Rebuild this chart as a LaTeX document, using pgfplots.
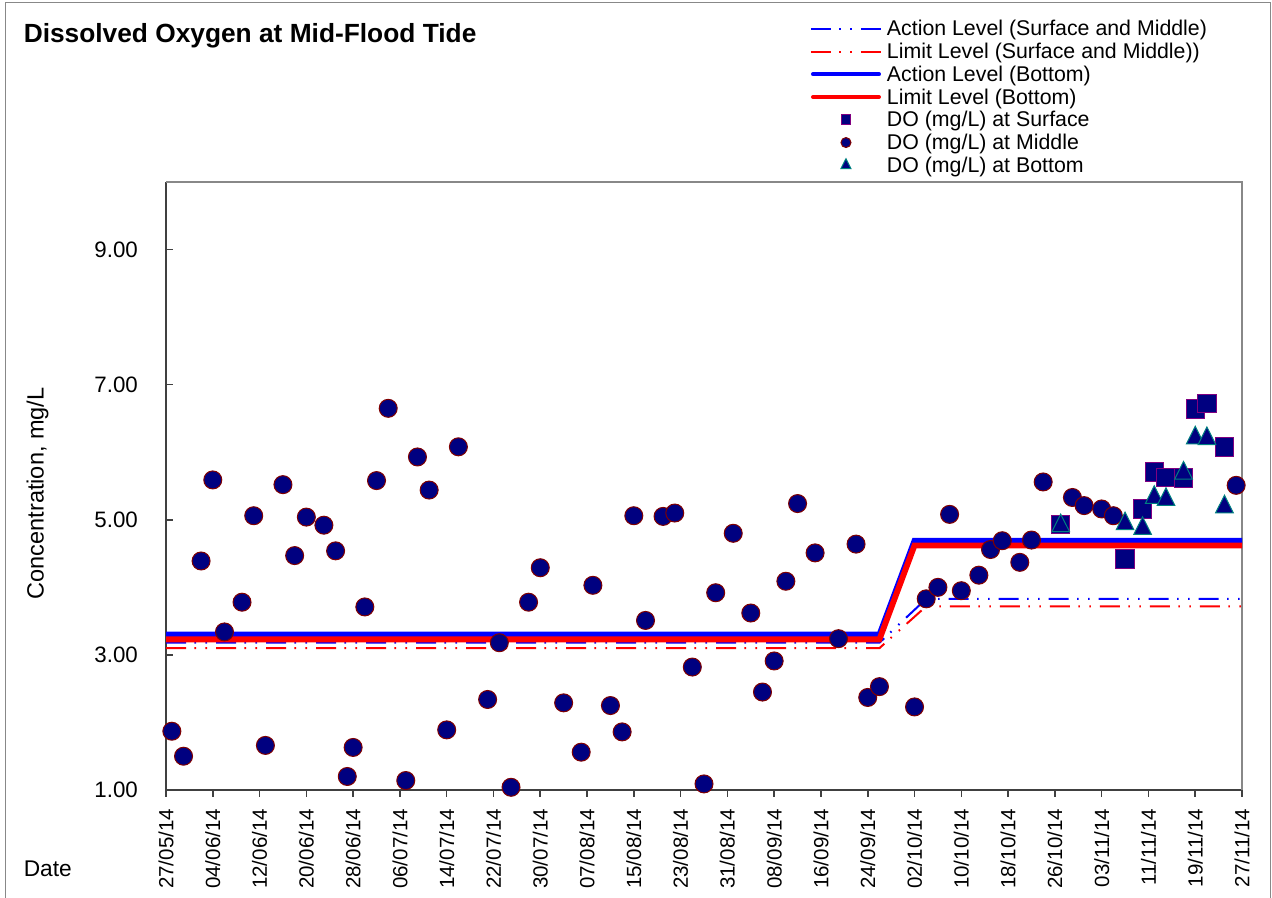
\documentclass[border=0pt]{standalone}
\usepackage{fontspec}
\setmainfont{Liberation Sans}
\usepackage{pgfplots}
\pgfplotsset{compat=1.18}
\definecolor{navyf}{HTML}{000080}
\definecolor{marE}{HTML}{800000}
\definecolor{purE}{HTML}{800080}
\definecolor{teaE}{HTML}{008080}
\definecolor{frameg}{HTML}{888888}
\definecolor{axdark}{HTML}{404040}
\definecolor{lblue}{HTML}{0000FF}
\definecolor{lred}{HTML}{FF0000}
\pgfplotsset{
  thinleg/.style={legend image code/.code={\draw[##1] (0bp,0bp) -- (35bp,0bp);}},
  thickleg/.style={legend image code/.code={\draw[##1, line width=2bp, line cap=round] (1bp,0bp) -- (34bp,0bp);}},
  sqleg/.style={legend image code/.code={\draw[##1, mark size=2.4bp] plot coordinates {(17.5bp,0bp)};}},
  ciorleg/.style={legend image code/.code={\draw[##1, mark size=2.5bp] plot coordinates {(17.5bp,0bp)};}},
  trileg/.style={legend image code/.code={\draw[##1, mark size=2.9bp] plot coordinates {(17.5bp,0bp)};}},
}
\begin{document}
\begin{tikzpicture}
\useasboundingbox (0,0) rectangle (636bp,449bp);
\fill[white] (0,0) rectangle (636bp,449bp);
\draw[frameg, line width=0.6bp] (2.8bp,-2bp) -- (2.8bp,447.6bp) -- (635.3bp,447.6bp) -- (635.3bp,-2bp);
\node[anchor=base west, font=\fontsize{13.2}{15}\selectfont\bfseries, inner sep=0pt] at (11.7bp,427.8bp) {Dissolved Oxygen at Mid-Flood Tide};
\node[anchor=base west, font=\fontsize{11.4}{13}\selectfont, inner sep=0pt] at (11.7bp,11bp) {Date};
\node[rotate=90, anchor=base, font=\fontsize{11.8}{13}\selectfont, inner sep=0pt] at (21.75bp,202.3bp) {Concentration, mg/L};
\begin{axis}[
  at={(83bp,54bp)}, anchor=south west,
  width=538bp, height=304bp, scale only axis,
  xmin=0, xmax=184, ymin=1, ymax=10,
  axis x line*=bottom, axis y line*=left,
  axis line style={-, draw=axdark, line width=1bp},
  xtick={0,8,...,184},
  xticklabels={27/05/14,04/06/14,12/06/14,20/06/14,28/06/14,06/07/14,14/07/14,22/07/14,30/07/14,07/08/14,15/08/14,23/08/14,31/08/14,08/09/14,16/09/14,24/09/14,02/10/14,10/10/14,18/10/14,26/10/14,03/11/14,11/11/14,19/11/14,27/11/14},
  ytick={1,3,5,7,9},
  yticklabels={1.00,3.00,5.00,7.00,9.00},
  tick style={axdark, line width=0.8bp},
  xtick align=outside, ytick align=inside,
  major tick length=3.3bp,
  xticklabel style={rotate=90, anchor=east, inner sep=0pt, font=\fontsize{10.3}{12}\selectfont},
  yticklabel style={anchor=east, inner sep=0pt, font=\fontsize{11.2}{13}\selectfont},
  xticklabel shift=6bp,
  yticklabel shift=13.85bp,
  /pgf/number format/assume math mode=true,
  clip=false,
  legend cell align=left,
  legend style={at={(0.5985,1.2705)}, anchor=north west, draw=none, fill=none,
    inner sep=0pt, outer sep=0pt, row sep=0.18bp, column sep=2.5bp,
    font=\fontsize{10.7}{12}\selectfont,
    nodes={inner sep=0pt, text height=9.2bp, text depth=2bp}},
]
\draw[frameg, line width=1bp] (rel axis cs:0,1) -- (rel axis cs:1,1) -- (rel axis cs:1,0);
% Action level surface & middle
\addplot[lblue, line width=1bp, dash pattern=on 10bp off 4.2bp on 0.8bp off 4.7bp on 0.8bp off 4.5bp, thinleg]
  coordinates {(0,3.18)(122,3.18)(130,3.83)(184,3.83)};
\addlegendentry{Action Level (Surface and Middle)}
\addplot[lred, line width=1bp, dash pattern=on 10bp off 4.2bp on 0.8bp off 4.7bp on 0.8bp off 4.5bp, thinleg]
  coordinates {(0,3.10)(122,3.10)(130,3.72)(184,3.72)};
\addlegendentry{Limit Level (Surface and Middle))}
\addplot[lblue, line width=2.9bp, thickleg]
  coordinates {(0,3.30)(122,3.30)(128,4.69)(184,4.69)};
\addlegendentry{Action Level (Bottom)}
\addplot[lred, line width=2.9bp, thickleg]
  coordinates {(0,3.23)(122,3.23)(128,4.62)(184,4.62)};
\addlegendentry{Limit Level (Bottom)}
% Surface
\addplot[only marks, mark=square*, mark size=4.6bp, mark options={fill=navyf, draw=purE, line width=0.5bp}, sqleg]
  coordinates {(153,4.93)(164,4.42)(167,5.16)(169,5.71)(171,5.63)(174,5.62)(176,6.64)(178,6.72)(181,6.08)};
\addlegendentry{DO (mg/L) at Surface}
% Middle
\addplot[only marks, mark=*, mark size=4.5bp, mark options={fill=navyf, draw=marE, line width=0.5bp}, ciorleg]
  coordinates {(1,1.87)(3,1.50)(6,4.39)(8,5.59)(10,3.34)(13,3.78)(15,5.06)(17,1.66)(20,5.52)(22,4.47)(24,5.04)(27,4.92)(29,4.54)(31,1.20)(32,1.63)(34,3.71)(36,5.58)(38,6.65)(41,1.14)(43,5.93)(45,5.44)(48,1.89)(50,6.08)(55,2.34)(57,3.18)(59,1.04)(62,3.78)(64,4.29)(68,2.29)(71,1.56)(73,4.03)(76,2.25)(78,1.86)(80,5.06)(82,3.51)(85,5.05)(87,5.10)(90,2.82)(92,1.09)(94,3.92)(97,4.80)(100,3.62)(102,2.45)(104,2.91)(106,4.09)(108,5.24)(111,4.51)(115,3.24)(118,4.64)(120,2.37)(122,2.53)(128,2.23)(130,3.83)(132,4.00)(134,5.08)(136,3.95)(139,4.18)(141,4.56)(143,4.69)(146,4.37)(148,4.70)(150,5.56)(155,5.33)(157,5.21)(160,5.16)(162,5.06)(183,5.51)};
\addlegendentry{DO (mg/L) at Middle}
% Bottom
\addplot[only marks, mark=triangle*, mark size=5.1bp, mark options={fill=navyf, draw=teaE, line width=0.5bp, yscale=1.15}, trileg]
  coordinates {(153,4.91)(164,4.94)(167,4.87)(169,5.33)(171,5.30)(174,5.69)(176,6.21)(178,6.20)(181,5.19)};
\addlegendentry{DO (mg/L) at Bottom}
\end{axis}
\end{tikzpicture}
\end{document}
